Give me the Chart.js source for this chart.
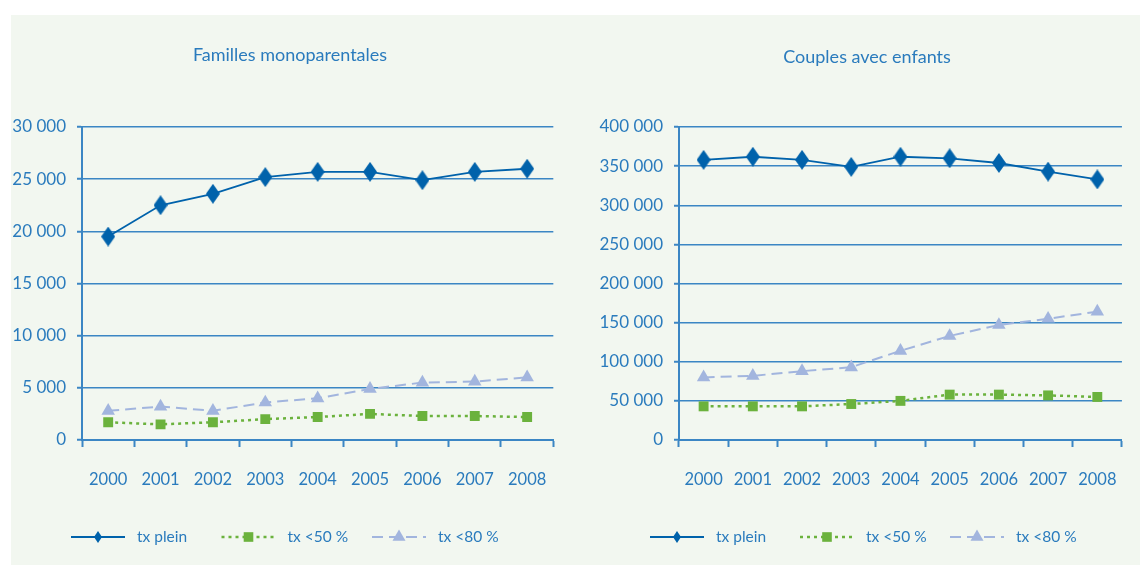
<!DOCTYPE html>
<html lang="fr">
<head>
<meta charset="utf-8">
<title>Familles monoparentales et couples avec enfants</title>
<script src="https://cdn.jsdelivr.net/npm/chart.js@4.4.1/dist/chart.umd.min.js"></script>
<style>
  html, body { margin: 0; padding: 0; background: #ffffff; }
  body { width: 1140px; height: 565px; position: relative; overflow: hidden; }
  #panel { position: absolute; left: 11px; top: 15px; width: 1129px; height: 550px; background: #f2f7f0; }
  .box { position: absolute; top: 0; width: 570px; height: 565px; }
  #boxLeft { left: 0; }
  #boxRight { left: 570px; }
</style>
</head>
<body>
<div id="panel"></div>
<div class="box" id="boxLeft"><canvas id="chartMono" width="570" height="565"></canvas></div>
<div class="box" id="boxRight"><canvas id="chartCouples" width="570" height="565"></canvas></div>
<script>
// Années
const years = ['2000', '2001', '2002', '2003', '2004', '2005', '2006', '2007', '2008'];
const seriesNames = ['tx plein', 'tx <50 %', 'tx <80 %'];

// Familles monoparentales
const monoPlein = [19500, 22500, 23600, 25200, 25700, 25700, 24900, 25700, 26000];
const monoSous50 = [1700, 1500, 1700, 2000, 2200, 2500, 2300, 2300, 2200];
const monoSous80 = [2800, 3200, 2800, 3600, 4000, 4900, 5500, 5600, 6000];
const monoAxis = { max: 30000, step: 5000 };

// Couples avec enfants
const couplesPlein = [358000, 362000, 358000, 349000, 362000, 360000, 354000, 343000, 333000];
const couplesSous50 = [43000, 43000, 43000, 46000, 50000, 58000, 58000, 57000, 55000];
const couplesSous80 = [80000, 82000, 88000, 93000, 114000, 133000, 147000, 155000, 164000];
const couplesAxis = { max: 400000, step: 50000 };

const FONT = 'Lato, "Open Sans", "DejaVu Sans", sans-serif';
const TEXT = '#2a7bbd';
const GRID = '#3b86c4';
const C_PLEIN = '#0062ab';
const C_50 = '#6bb23d';
const C_80 = '#a2b5de';

// Losange allongé utilisé comme marqueur
function diamond(w, h, color) {
  const c = document.createElement('canvas');
  c.width = w; c.height = h;
  const g = c.getContext('2d');
  g.fillStyle = color;
  g.beginPath();
  g.moveTo(w / 2, 0);
  g.lineTo(w, h / 2);
  g.lineTo(w / 2, h);
  g.lineTo(0, h / 2);
  g.closePath();
  g.fill();
  return c;
}
const bigDiamond = diamond(14, 20, C_PLEIN);
const smallDiamond = diamond(8, 12, C_PLEIN);

// Nombres avec espace comme séparateur des milliers
function fmt(v) {
  return String(Math.round(v)).replace(/\B(?=(\d{3})+(?!\d))/g, ' ');
}

// Titre et légende dessinés sur le canevas
const decorPlugin = {
  id: 'decor',
  afterDraw(chart, args, opts) {
    const ctx = chart.ctx;
    ctx.save();
    ctx.fillStyle = TEXT;
    ctx.font = '18px ' + FONT;
    ctx.textAlign = 'center';
    ctx.textBaseline = 'middle';
    ctx.fillText(opts.title, opts.titleX, opts.titleY);

    ctx.font = '15.5px ' + FONT;
    ctx.textAlign = 'left';
    chart.data.datasets.forEach((ds, i) => {
      const x0 = opts.legendX + i * opts.legendStep;
      const y = opts.legendY;
      ctx.save();
      ctx.strokeStyle = ds.borderColor;
      ctx.lineWidth = ds.borderWidth;
      ctx.setLineDash(ds.borderDash || []);
      ctx.beginPath();
      ctx.moveTo(x0, y);
      ctx.lineTo(x0 + 54, y);
      ctx.stroke();
      ctx.setLineDash([]);
      ctx.fillStyle = ds.pointBackgroundColor;
      ctx.strokeStyle = ds.pointBorderColor;
      const style = ds.legendPointStyle || ds.pointStyle;
      Chart.helpers.drawPoint(ctx, {
        pointStyle: style,
        radius: ds.legendRadius || ds.pointRadius,
        rotation: 0,
        borderWidth: 0
      }, x0 + 27, y);
      ctx.restore();
      ctx.fillStyle = TEXT;
      ctx.fillText(ds.label, x0 + 66, y);
    });
    ctx.restore();
  }
};

function makeChart(id, title, plein, sous50, sous80, axis, geom) {
  return new Chart(document.getElementById(id), {
    type: 'line',
    data: {
      labels: years,
      datasets: [
        {
          label: seriesNames[0], data: plein,
          borderColor: C_PLEIN, borderWidth: 1.8,
          pointStyle: bigDiamond, legendPointStyle: smallDiamond,
          pointRadius: 8, legendRadius: 6,
          pointBackgroundColor: C_PLEIN, pointBorderColor: C_PLEIN,
          tension: 0, order: 1
        },
        {
          label: seriesNames[1], data: sous50,
          borderColor: C_50, borderWidth: 2.5, borderDash: [3, 4],
          pointStyle: 'rect', pointRadius: 7, legendRadius: 6.8,
          pointBackgroundColor: C_50, pointBorderColor: C_50, pointBorderWidth: 0,
          tension: 0, order: 3
        },
        {
          label: seriesNames[2], data: sous80,
          borderColor: C_80, borderWidth: 2, borderDash: [11, 6],
          pointStyle: 'triangle', pointRadius: 7.8, legendRadius: 7.5,
          pointBackgroundColor: C_80, pointBorderColor: C_80, pointBorderWidth: 0,
          tension: 0, order: 2
        }
      ]
    },
    options: {
      responsive: false,
      animation: false,
      events: [],
      layout: { padding: { left: 0, top: geom.top, right: geom.right, bottom: 0 } },
      plugins: {
        legend: { display: false },
        title: { display: false },
        tooltip: { enabled: false },
        decor: {
          title: title, titleX: geom.titleX, titleY: geom.titleY,
          legendX: geom.legendX, legendStep: geom.legendStep, legendY: 537
        }
      },
      scales: {
        x: {
          type: 'category',
          offset: true,
          grid: {
            offset: true, drawOnChartArea: false, drawTicks: true,
            tickLength: 7, tickWidth: 2, tickColor: GRID
          },
          border: { display: true, color: GRID, width: 2 },
          ticks: { color: TEXT, font: { family: FONT, size: 16.5 }, padding: 23, maxRotation: 0 },
          afterFit(scale) { scale.height = 125; }
        },
        y: {
          min: 0, max: axis.max,
          grid: {
            color: GRID, lineWidth: 1.5, drawTicks: true,
            tickLength: 5, tickWidth: 2, tickColor: GRID
          },
          border: { display: true, color: GRID, width: 2 },
          ticks: {
            stepSize: axis.step, color: TEXT,
            font: { family: FONT, size: 17 }, padding: 11,
            callback: v => fmt(v)
          },
          afterFit(scale) { scale.width = geom.axisLeft; }
        }
      }
    },
    plugins: [decorPlugin]
  });
}

makeChart('chartMono', 'Familles monoparentales', monoPlein, monoSous50, monoSous80, monoAxis,
  { top: 127, right: 13, axisLeft: 82, titleX: 290, titleY: 55, legendX: 71, legendStep: 150.5 });
makeChart('chartCouples', 'Couples avec enfants', couplesPlein, couplesSous50, couplesSous80, couplesAxis,
  { top: 127, right: 3, axisLeft: 109, titleX: 297, titleY: 57, legendX: 80, legendStep: 150 });
</script>
</body>
</html>
